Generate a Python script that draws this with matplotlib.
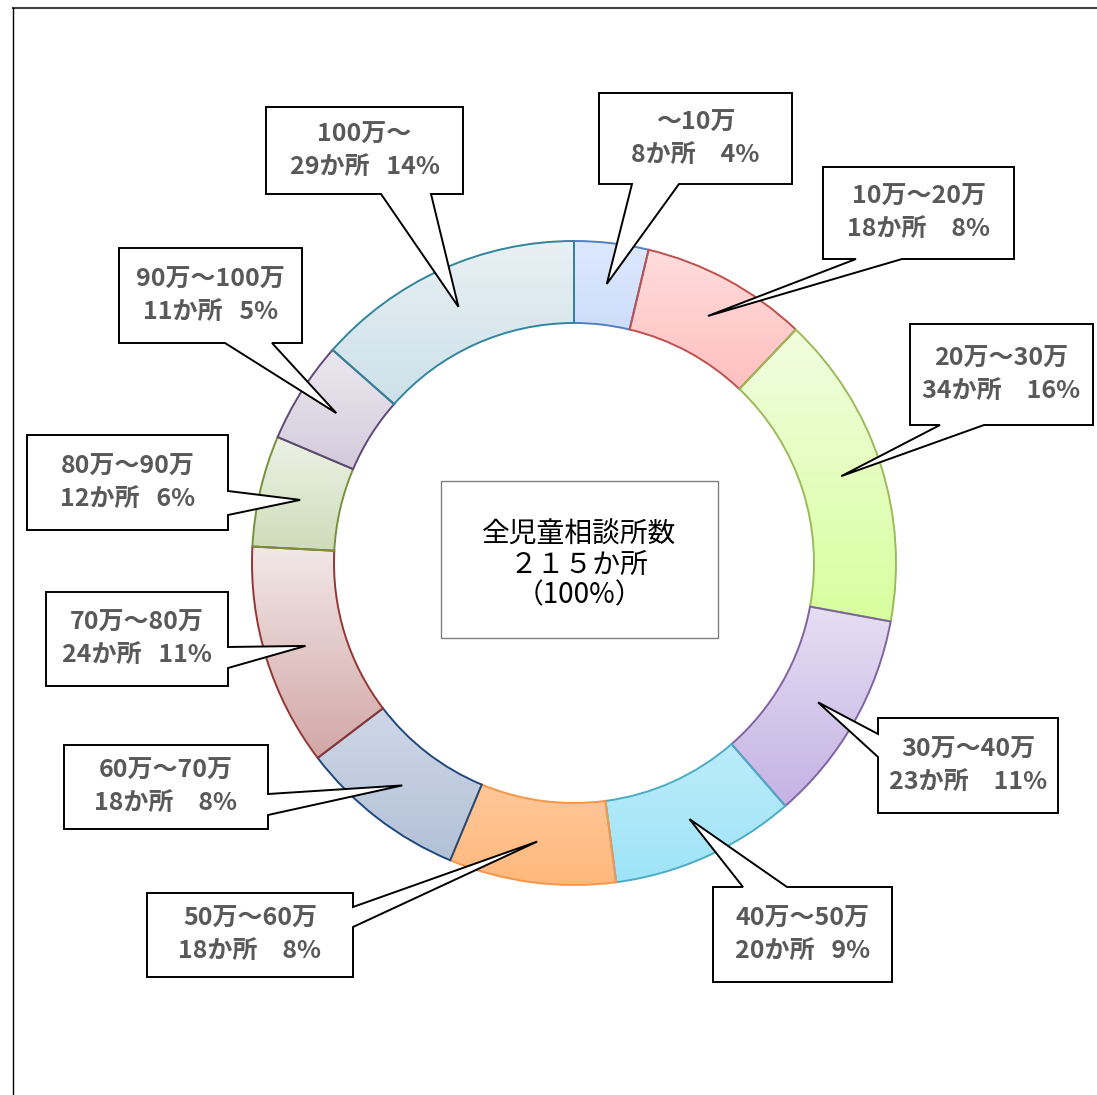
import numpy as np
import matplotlib
matplotlib.use("Agg")
import matplotlib.pyplot as plt
from matplotlib.colors import LinearSegmentedColormap
from matplotlib.patches import Polygon, Rectangle
from matplotlib.lines import Line2D

plt.rcParams["font.family"] = ["Noto Sans CJK JP", "DejaVu Sans"]

# data
ranges = ["～10万", "10万～20万", "20万～30万", "30万～40万", "40万～50万",
          "50万～60万", "60万～70万", "70万～80万", "80万～90万", "90万～100万",
          "100万～"]
counts = [8, 18, 34, 23, 20, 18, 18, 24, 12, 11, 29]
percents = [4, 8, 16, 11, 9, 8, 8, 11, 6, 5, 14]
wide_gap = [True, True, True, True, False, True, True, False, False, False, False]
total_label = ["全児童相談所数", "２１５か所", "（100%）"]

# slice colours: top of gradient, bottom of gradient, outline
top_colors = ["#dde8fd", "#ffdcdc", "#f1fde0", "#ede8f6", "#e0f6fc", "#ffe8d8",
              "#e8ecf4", "#f2e8e8", "#edf2e6", "#ece8ef", "#e8f0f4"]
bottom_colors = ["#a4c2f4", "#ff9d9d", "#d8ff9e", "#c5b2e4", "#9fe4f8", "#ffb87c",
                 "#b3c1d8", "#d2a7a6", "#cbdab4", "#c0b4cc", "#b2d2de"]
edge_colors = ["#4f81bd", "#c0504d", "#9bbb59", "#8064a2", "#4bacc6", "#f79646",
               "#1f497d", "#943634", "#76923c", "#5f497a", "#31859c"]

# callout layout in pixels: box (left, top, right, bottom), pointer edge and base
boxes = [(599, 93, 792, 184), (823, 167, 1014, 259), (910, 324, 1093, 425),
         (878, 718, 1058, 813), (713, 887, 892, 982), (147, 893, 353, 977),
         (64, 745, 268, 829), (46, 592, 228, 686), (27, 435, 228, 530),
         (119, 248, 302, 343), (266, 107, 463, 194)]
pointers = [("bottom", 632, 679), ("bottom", 856, 902), ("bottom", 940, 984),
            ("left", 734, 757), ("top", 743, 787), ("right", 907, 927),
            ("right", 794, 815), ("right", 647, 668), ("right", 491, 515),
            ("bottom", 225, 272), ("bottom", 381, 431)]

W, H = 1097, 1095
CX, CY, R = 574, 563, 322


def px(x, y):
    return ((x - CX) / R, (CY - y) / R)


fig = plt.figure(figsize=(W / 100, H / 100), dpi=100)
ax = fig.add_axes([0, 0, 1, 1])
ax.axis("off")

wedges, _ = ax.pie(counts, startangle=90, counterclock=False, radius=1,
                   wedgeprops=dict(width=1 - 240 / 322, linewidth=1.4))

grad = np.linspace(0, 1, 256).reshape(-1, 1)
for w, c_top, c_bot, c_edge in zip(wedges, top_colors, bottom_colors, edge_colors):
    w.set_facecolor("none")
    w.set_edgecolor(c_edge)
    w.set_zorder(3)
    v = w.get_path().vertices
    x0, x1 = v[:, 0].min(), v[:, 0].max()
    y0, y1 = v[:, 1].min(), v[:, 1].max()
    cmap = LinearSegmentedColormap.from_list("g", [c_bot, c_top])
    im = ax.imshow(grad, extent=(x0, x1, y0, y1), origin="lower", cmap=cmap,
                   aspect="auto", zorder=2, interpolation="bilinear")
    im.set_clip_path(w)

# callouts
for w, rng, n, p, wide, box, ptr in zip(wedges, ranges, counts, percents,
                                        wide_gap, boxes, pointers):
    theta = np.deg2rad((w.theta1 + w.theta2) / 2)
    rm = w.r - w.width / 2
    tip = (rm * np.cos(theta), rm * np.sin(theta))
    l, t, r, b = box
    side, a1, a2 = ptr
    pts = [px(l, t)]
    if side == "top":
        pts += [px(a1, t), tip, px(a2, t)]
    pts += [px(r, t)]
    if side == "right":
        pts += [px(r, a1), tip, px(r, a2)]
    pts += [px(r, b)]
    if side == "bottom":
        pts += [px(a2, b), tip, px(a1, b)]
    pts += [px(l, b)]
    if side == "left":
        pts += [px(l, a2), tip, px(l, a1)]
    ax.add_patch(Polygon(pts, closed=True, facecolor="white", edgecolor="black",
                         linewidth=1.4, zorder=5, joinstyle="miter"))
    gap = "　" if wide else "   "
    cx, cy = px((l + r) / 2, (t + b) / 2)
    ax.text(cx, cy, f"{rng}\n{n}か所{gap}{p}%", ha="center", va="center",
            fontsize=18, fontweight="bold", color="#595959", linespacing=1.42,
            zorder=6)

# centre label
bl, bt = px(441, 638)
br, btop = px(718, 481)
ax.add_patch(Rectangle((bl, bt), br - bl, btop - bt, facecolor="white",
                       edgecolor="#808080", linewidth=1.0, zorder=5))
tx, ty = px(579, 565)
ax.text(tx, ty, "\n".join(total_label), ha="center", va="center", fontsize=20,
        color="black", linespacing=1.0, zorder=6)

ax.set_xlim(px(0, 0)[0], px(W, 0)[0])
ax.set_ylim(px(0, H)[1], px(0, 0)[1])

# outer frame (top and left edges visible)
fig.add_artist(Line2D([13 / W, 1], [1 - 8 / H, 1 - 8 / H], color="#404040",
                      linewidth=1.5))
fig.add_artist(Line2D([13 / W, 13 / W], [0, 1 - 8 / H], color="black",
                      linewidth=1.0))

fig.savefig("out.png", dpi=100)
